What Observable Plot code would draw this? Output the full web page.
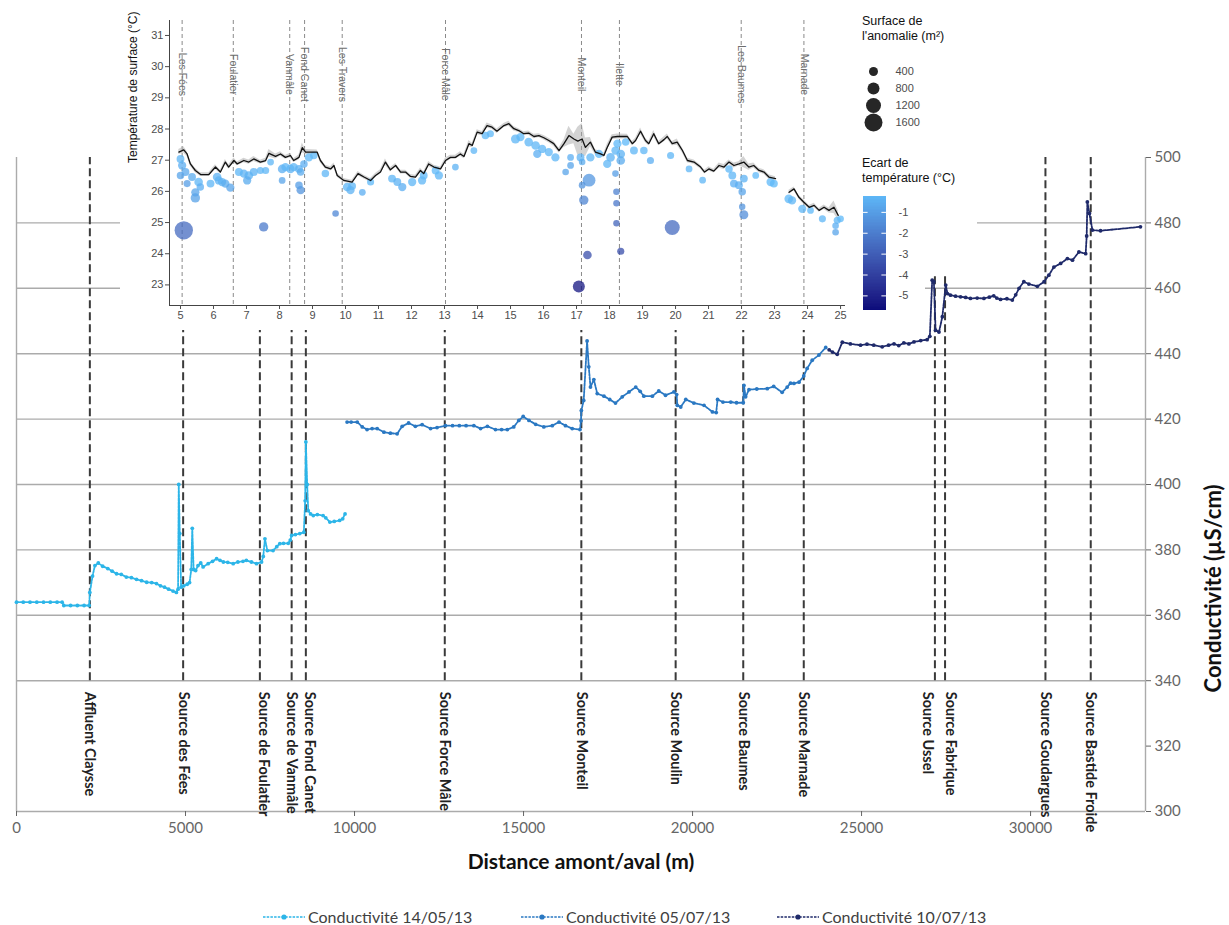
<!DOCTYPE html>
<html><head><meta charset="utf-8">
<script src="https://cdn.jsdelivr.net/npm/d3@7"></script>
<script src="https://cdn.jsdelivr.net/npm/@observablehq/plot@0.6"></script>
<style>
body{margin:0;background:#fff;}
#wrap{position:relative;width:1229px;height:925px;overflow:hidden;font-family:Lato,"Liberation Sans",sans-serif;}
.box{position:absolute;background:#fff;}
.ttl{position:absolute;font-family:"Liberation Sans",Arial,sans-serif;font-size:12.5px;color:#111;line-height:15px;}
.leg{position:absolute;font-family:Lato,"Liberation Sans",sans-serif;font-size:16px;color:#404040;white-space:nowrap;}
</style></head><body><div id="wrap"></div>
<script>
// ---------- Main chart: conductivity (µS/cm) along the river (m) ----------
const seriesNames = ["Conductivité 14/05/13", "Conductivité 05/07/13", "Conductivité 10/07/13"];
const seriesColors = ["#2cb5e8", "#2a78c2", "#1f2a6a"];

const s1Dist = [0,200,400,600,800,1000,1200,1350,1400,1600,1800,2000,2150,2170,2250,2320,2420,2550,2700,2830,
  2960,3100,3250,3400,3550,3700,3850,4000,4140,4260,4380,4500,4630,4730,4780,4800,4830,4870,4950,5050,
  5120,5170,5200,5240,5300,5370,5450,5520,5670,5800,5920,6020,6120,6250,6410,6550,6700,6800,6950,7100,
  7250,7300,7350,7420,7590,7700,7790,7900,8040,8100,8140,8250,8380,8500,8540,8560,8600,8630,8700,8780,
  8900,9070,9150,9270,9400,9560,9650,9720];
const s1Cond = [364,364,364,364,364,364,364,364,363,363,363,363,363,367,372,375.2,376,375,374.3,373.5,
  372.7,372.5,371.7,371.5,371,370.6,370.1,370,369.7,369,368.6,368,367.4,367,368,400,385,368.6,369,369.5,
  370,374,386.6,374,373.7,375.2,376,374.8,375.8,376.5,377.3,376.8,376.3,376.2,375.8,376.3,376.5,376.8,376.3,375.8,
  376.3,378,383.4,379.8,379.8,381,381.9,382,382,383,384.4,384.7,385,385.4,395,413,400,392,391,390.5,
  390.8,390.5,389.8,388.5,388.7,389,389.5,391];

const s2Dist = [9780,9900,10080,10230,10370,10520,10670,10870,11060,11260,11410,11600,11800,12000,12250,12440,12690,12900,13100,13300,
  13530,13730,13930,14170,14350,14520,14710,14860,14990,15160,15360,15600,15850,16050,16240,16440,16670,16700,16710,16780,
  16880,16930,16980,17080,17180,17380,17550,17720,17920,18120,18320,18450,18560,18810,19000,19200,19450,19530,19550,19650,
  19800,20040,20340,20590,20700,20740,20900,21130,21300,21500,21520,21570,21670,21900,22210,22400,22650,22800,22900,23000,
  23150,23290,23390,23540,23740,23940];
const s2Cond = [419.1,419.1,419.1,417.6,416.8,417.1,417.1,416,415.7,415.5,417.8,418.8,417.8,418.3,417.1,417.4,418,418,418,418,
  418,417.1,417.8,416.8,416.8,416.8,417.6,419.6,420.8,419.6,418.4,417.6,418,419.1,418,417.1,416.8,419.5,422.6,425.7,
  443.9,436,429.8,432.1,427.8,427,426,424.9,426.8,428.3,429.8,428.5,427,427,428.6,427.3,428.3,427.5,424.2,423.7,
  426,424.9,424.2,422.2,422,426,425.2,425.2,425,425,430.3,426.8,429,429.2,429.3,430,428.2,429.8,431,430.9,
  431.3,433.2,435.5,438,439.6,441.9];

const s3Dist = [24040,24140,24280,24430,24670,24970,25160,25360,25610,25800,25960,26100,26250,26400,26550,26750,26940,27020,27090,27140,27190,
  27290,27390,27490,27540,27630,27780,27930,28080,28220,28420,28620,28780,28910,29000,29110,29300,29460,29560,29660,29800,
  29950,30200,30400,30540,30690,30890,31090,31240,31430,31630,31660,31680,31740,31830,32070,33250];
const s3Cond = [441.2,440.5,439.8,443.5,443,442.6,442.9,442.6,442.1,442.6,443,442.5,443.3,443,443.6,444,444.3,445.3,462.5,462,447.2,
  446.6,451.3,461,458.4,457.9,457.6,457.4,457.2,456.9,457,456.9,457.3,457.7,457,456.6,456.8,456.4,458,460,462,
  461.3,460.6,462,464,466.5,467.6,469.1,468.6,471.1,470.6,476,486.4,482.9,477.8,477.6,478.8];

const sourceNames = ["Affluent Claysse","Source des Fées","Source de Foulatier","Source de Vanmâle","Source Fond Canet",
  "Source Force Mâle","Source Monteil","Source Moulin","Source Baumes","Source Marnade","Source Ussel","Source Fabrique",
  "Source Goudargues","Source Bastide Froide"];
const sourceDist = [2170,4930,7200,8140,8560,12670,16710,19500,21500,23290,27170,27470,30440,31780];

const condTicks = [300,320,340,360,380,400,420,440,460,480,500];
const condGrid = [340,360,380,400,420,440,460,480];
const distTicks = [0,5000,10000,15000,20000,25000,30000];

// ---------- Inset: surface temperature (°C) along the river (km) ----------
const tempKm = [4.95,5.10,5.20,5.30,5.45,5.61,5.86,6.06,6.21,6.36,
  6.46,6.62,6.72,6.92,7.07,7.22,7.42,7.58,7.68,7.88,
  8.03,8.18,8.33,8.43,8.59,8.69,8.79,9.14,9.24,9.39,
  9.55,9.65,9.75,9.95,10.20,10.38,10.56,10.76,10.91,11.06,
  11.21,11.36,11.52,11.67,11.82,11.97,12.12,12.27,12.37,12.52,
  12.68,12.88,13.03,13.18,13.33,13.48,13.59,13.74,13.84,13.99,
  14.14,14.29,14.44,14.59,14.80,14.95,15.10,15.25,15.40,15.55,
  15.71,15.86,16.01,16.16,16.31,16.47,16.62,16.77,16.92,17.04,
  17.17,17.27,17.42,17.57,17.73,17.83,17.93,18.08,18.24,18.54,
  18.69,18.79,18.94,19.09,19.19,19.34,19.49,19.65,19.75,19.90,
  20.05,20.21,20.36,20.56,20.76,20.88,21.01,21.16,21.32,21.47,
  21.62,21.77,21.92,22.07,22.22,22.37,22.53,22.68,22.83,23.03,
  23.44,23.59,23.74,23.89,24.05,24.20,24.35,24.50,24.65,24.80,24.93];
const tempC = [27.26,27.33,27.20,26.88,26.67,26.54,26.54,26.78,26.62,26.94,
  26.78,26.99,26.88,26.99,26.94,27.04,26.94,26.99,27.22,27.12,
  27.20,27.09,27.15,26.99,27.09,27.40,27.26,27.26,26.99,26.78,
  26.72,26.83,26.51,26.35,26.30,26.57,26.46,26.35,26.51,26.62,
  26.94,26.69,26.83,26.62,26.62,26.48,26.46,26.67,26.57,26.88,
  26.78,26.72,26.99,27.09,27.09,27.20,27.12,27.53,27.47,27.90,
  27.85,28.11,28.06,27.93,28.11,28.17,28.01,27.95,27.85,27.87,
  27.76,27.79,27.72,27.63,27.53,27.31,27.53,27.79,27.68,27.61,
  27.68,27.41,27.58,27.26,27.20,27.15,27.41,27.74,27.76,27.76,
  27.53,27.63,27.93,27.63,27.53,27.85,27.53,27.66,27.76,27.53,
  27.58,27.31,26.99,26.94,26.78,26.62,26.72,26.65,26.83,26.78,
  26.94,26.83,26.88,26.94,26.78,26.83,26.67,26.62,26.46,26.41,
  25.97,26.08,25.81,25.65,25.49,25.55,25.39,25.49,25.39,25.49,25.23];
const tempSe = [.08,.1,.08,.07,.07,.06,.06,.07,.06,.08,
  .07,.08,.06,.07,.07,.08,.06,.07,.12,.08,
  .07,.06,.07,.06,.08,.15,.08,.07,.07,.06,
  .07,.08,.06,.06,.06,.07,.06,.06,.06,.07,
  .1,.07,.06,.06,.06,.06,.06,.07,.06,.08,
  .06,.06,.08,.07,.07,.07,.07,.1,.07,.08,
  .07,.08,.07,.07,.07,.08,.07,.06,.06,.07,
  .07,.06,.07,.07,.08,.08,.12,.3,.15,.45,
  .5,.3,.15,.08,.07,.07,.1,.08,.08,.07,
  .07,.07,.1,.07,.07,.1,.07,.08,.08,.07,
  .1,.08,.07,.07,.06,.06,.07,.06,.08,.08,
  .07,.08,.07,.18,.1,.08,.07,.07,.07,.06,
  .07,.06,.06,.07,.06,.07,.06,.07,.08,.2,.15];

const bubbleKm = [5.00,5.05,5.00,5.15,5.20,5.35,5.45,5.45,5.55,5.60,
  5.91,6.11,6.16,6.26,6.36,6.51,5.10,7.52,6.77,6.92,
  7.07,7.02,7.22,7.42,7.58,7.73,8.08,8.08,8.18,8.33,
  8.43,8.59,8.64,8.59,8.64,8.74,8.89,9.04,9.39,9.70,
  10.05,10.15,10.20,10.51,10.76,11.41,11.57,11.72,12.02,12.32,
  12.37,12.73,12.83,13.33,13.89,14.24,14.39,15.15,15.30,15.55,
  15.76,15.81,15.96,16.16,16.36,16.67,16.82,16.82,17.12,17.17,
  17.38,17.17,17.22,17.33,17.07,17.42,17.68,17.93,18.03,18.18,
  18.24,18.34,18.34,18.18,18.21,18.21,18.21,18.34,18.49,18.74,
  19.04,19.24,19.85,19.90,20.41,20.82,21.62,21.72,21.77,21.92,
  22.07,22.02,22.02,22.07,22.43,22.88,22.98,23.43,23.53,23.84,
  24.09,24.45,24.90,24.85,24.85,25.00];
const bubbleTemp = [27.04,26.83,26.51,26.62,26.25,26.46,25.97,25.79,26.30,26.14,
  26.25,26.46,26.35,26.30,26.25,26.12,24.75,24.86,26.62,26.57,
  26.51,26.35,26.62,26.67,26.67,26.94,26.72,26.35,26.78,26.72,
  26.78,26.72,26.62,26.20,26.04,26.88,27.09,27.15,26.57,25.29,
  26.14,26.04,26.17,25.97,26.30,26.41,26.30,26.14,26.30,26.35,
  26.51,26.67,26.51,26.78,27.31,27.79,27.85,27.68,27.74,27.58,
  27.47,27.20,27.36,27.26,27.09,26.62,27.09,26.83,27.09,26.94,
  26.36,26.20,25.72,23.96,22.95,27.09,27.20,26.88,27.09,27.31,
  27.53,27.20,26.99,26.57,25.99,25.62,24.98,24.08,27.58,27.31,
  27.31,26.99,27.15,24.84,26.72,26.36,26.72,26.51,26.25,26.20,
  26.41,25.99,25.51,25.25,26.51,26.30,26.25,25.76,25.71,25.44,
  25.39,25.12,25.07,24.90,24.69,25.12];
const bubbleArea = [250,300,200,250,150,250,300,450,350,200,
  250,350,300,300,300,300,1650,450,250,300,
  350,300,250,150,150,100,350,100,300,350,
  300,250,200,200,300,200,300,200,200,80,
  350,300,250,100,150,250,250,300,300,300,
  250,250,300,100,100,200,150,400,300,350,
  350,300,300,300,300,80,100,100,250,80,
  900,100,450,350,800,300,300,300,350,300,
  300,350,350,80,80,60,60,150,200,250,
  200,150,150,1200,100,100,200,250,250,250,
  250,200,60,400,100,300,250,350,300,300,
  100,150,150,80,80,100];
const bubbleEcart = [-0.3,-0.5,-0.8,-0.7,-1.0,-0.6,-0.8,-0.9,-0.3,-0.5,
  -0.3,-0.4,-0.4,-0.4,-0.6,-0.8,-2.6,-2.1,-0.3,-0.4,
  -0.4,-0.6,-0.4,-0.3,-0.3,-0.3,-0.5,-0.8,-0.3,-0.4,
  -0.3,-0.4,-0.6,-1.0,-1.3,-0.5,-0.2,-0.2,-0.3,-1.7,
  -0.3,-0.4,-0.3,-0.5,-0.2,-0.3,-0.4,-0.5,-0.3,-0.3,
  -0.2,-0.2,-0.3,-0.4,-0.3,-0.2,-0.2,-0.3,-0.2,-0.3,
  -0.3,-0.5,-0.3,-0.3,-0.3,-0.8,-0.5,-0.8,-0.4,-0.6,
  -1.2,-1.3,-1.8,-3.5,-5.4,-0.3,-0.2,-0.3,-0.4,-0.3,
  -0.2,-0.4,-0.6,-1.0,-1.9,-2.2,-2.8,-3.6,-0.2,-0.3,
  -0.3,-0.5,-0.3,-2.6,-0.3,-0.3,-0.2,-0.3,-0.5,-0.5,
  -0.4,-0.8,-1.3,-1.5,-0.2,-0.2,-0.2,-0.2,-0.3,-0.3,
  -0.2,-0.3,-0.3,-0.5,-0.8,-0.2];

const siteNames = ["Les Fées","Foulatier","Vanmâle","Fond Canet","Les Travers","Force Mâle","Monteil","Ilette","Les Baumes","Marnade"];
const siteKm = [5.05,6.60,8.31,8.76,9.90,13.03,17.15,18.30,21.99,23.89];

const kmTicks = [5,6,7,8,9,10,11,12,13,14,15,16,17,18,19,20,21,22,23,24,25];
const tempTicks = [23,24,25,26,27,28,29,30,31];
const sizeLegend = [400,800,1200,1600];
const ecartTicks = [-1,-2,-3,-4,-5];

// ---------- build ----------
const wrap = document.getElementById("wrap");
function place(el, left, top) { el.style.position = "absolute"; el.style.left = left + "px"; el.style.top = top + "px"; wrap.appendChild(el); return el; }
function box(left, top, w, h) { const d = document.createElement("div"); d.className = "box"; Object.assign(d.style, {left: left+"px", top: top+"px", width: w+"px", height: h+"px"}); wrap.appendChild(d); return d; }

const condRows = [];
[[s1Dist, s1Cond], [s2Dist, s2Cond], [s3Dist, s3Cond]].forEach(([xs, ys], k) =>
  xs.forEach((x, i) => condRows.push({x, y: ys[i], name: seriesNames[k]})));
const sources = sourceNames.map((name, i) => ({name, x: sourceDist[i]}));
const labelShift = {"Source Ussel": -7, "Source Fabrique": 6, "Source de Foulatier": 4, "Source Fond Canet": 4};

const main = Plot.plot({
  width: 1229, height: 880, marginLeft: 16, marginRight: 84, marginTop: 157, marginBottom: 69,
  x: {domain: [0, 33400]},
  y: {domain: [300, 500]},
  color: {domain: seriesNames, range: seriesColors},
  style: {fontFamily: "Lato, 'Liberation Sans', sans-serif", background: "transparent", overflow: "visible"},
  marks: [
    Plot.ruleY(condGrid, {stroke: "#ababab", strokeWidth: 1.4}),
    Plot.ruleY([300], {stroke: "#ababab", strokeWidth: 1.4}),
    Plot.ruleX([0], {stroke: "#ababab", strokeWidth: 1.4}),
    Plot.ruleX([33400], {stroke: "#ababab", strokeWidth: 1.4}),
    Plot.ruleX(sources, {x: "x", y1: 340, y2: 500, stroke: "#3a3a3a", strokeWidth: 2, strokeDasharray: "8,4"}),
    ...sources.map(s => Plot.text([s], {x: "x", y: 340, text: "name", rotate: 90, textAnchor: "start", lineAnchor: "middle",
      dy: 11, dx: labelShift[s.name] || 0, fontWeight: "bold", fontSize: 14.5, fill: "#222"})),
    Plot.line(condRows, {x: "x", y: "y", z: "name", stroke: "name", strokeWidth: 1.8, strokeDasharray: "2.5,1.2"}),
    Plot.dot(condRows, {x: "x", y: "y", fill: "name", r: 1.9}),
    Plot.axisY({anchor: "right", ticks: condTicks, tickSize: 5, tickPadding: 4, fontSize: 15, label: null, color: "#666"}),
    Plot.axisX({ticks: distTicks, tickSize: 5, tickPadding: 6, tickFormat: d => String(d), fontSize: 15, label: null, color: "#666"}),
    Plot.text(["Distance amont/aval (m)"], {frameAnchor: "bottom", text: d => d, dy: 57, fontWeight: "bold", fontSize: 21, fill: "#111"}),
    Plot.text(["Conductivité (µS/cm)"], {frameAnchor: "right", text: d => d, rotate: -90, dx: 68, fontWeight: "bold", fontSize: 22, fill: "#111"})
  ]
});
place(main, 0, 0);

// white backing of the inset image
box(120, 0, 805, 330);
box(850, 0, 127, 275);

const colorDomain = [-5.7, -0.24];
const colorDef = {type: "linear", domain: colorDomain, range: ["#0a0a7a", "#5db7f7"], interpolate: "lab"};
const rDef = {type: "linear", domain: [0, 1600], range: [3, 9]};

const temp = tempKm.map((km, i) => ({km, t: tempC[i], se: tempSe[i], seg: km > 23.2 ? 1 : 0}));
const bubbles = bubbleKm.map((km, i) => ({km, t: bubbleTemp[i], area: bubbleArea[i], ecart: bubbleEcart[i]}));
const sites = siteNames.map((name, i) => ({name, km: siteKm[i]}));

const inset = Plot.plot({
  width: 730, height: 330, marginLeft: 49, marginRight: 5, marginTop: 20, marginBottom: 25,
  x: {domain: [4.667, 25.15]},
  y: {domain: [22.34, 31.48]},
  color: colorDef,
  r: rDef,
  style: {fontFamily: "'Liberation Sans', Arial, sans-serif", background: "transparent", overflow: "visible"},
  marks: [
    Plot.ruleX(sites, {x: "km", stroke: "#8a8a8a", strokeWidth: 1, strokeDasharray: "4,3"}),
    Plot.areaY(temp, {x: "km", y1: d => d.t - d.se, y2: d => d.t + d.se, z: "seg", fill: "#a8a8a8", fillOpacity: 0.5}),
    Plot.dot(bubbles, {x: "km", y: "t", r: "area", fill: "ecart", fillOpacity: 0.75}),
    Plot.line(temp, {x: "km", y: "t", z: "seg", stroke: "#111", strokeWidth: 1.3}),
    Plot.text(sites, {x: "km", y: 29.75, text: "name", rotate: 90, fill: "#6e6e6e", fontSize: 10.5}),
    Plot.ruleX([4.667], {stroke: "#444"}),
    Plot.ruleY([22.34], {stroke: "#444"}),
    Plot.axisX({ticks: kmTicks, tickSize: 4, tickPadding: 2, fontSize: 11, color: "#4d4d4d", label: null}),
    Plot.axisY({ticks: tempTicks, tickSize: 4, tickPadding: 2, fontSize: 11, color: "#4d4d4d", label: null}),
    Plot.text(["Température de surface (°C)"], {frameAnchor: "left", text: d => d, rotate: -90, dx: -36, fontSize: 12, fill: "#111"})
  ]
});
place(inset, 120, 0);

// size legend
const sizeLeg = Plot.plot({
  width: 127, height: 110, margin: 0,
  x: {domain: [0, 1], range: [23, 45], axis: null},
  y: {type: "point", domain: sizeLegend, range: [21, 91], axis: null},
  r: rDef,
  style: {fontFamily: "'Liberation Sans', Arial, sans-serif", background: "transparent", overflow: "visible"},
  marks: [
    Plot.dot(sizeLegend, {x: 0, y: d => d, r: d => d, fill: "#262626"}),
    Plot.text(sizeLegend, {x: 1, y: d => d, text: d => String(d), textAnchor: "start", fontSize: 11, fill: "#4d4d4d"})
  ]
});
place(sizeLeg, 850, 40);

// colour bar legend
const nSlices = 80;
const slices = d3.range(nSlices).map(i => {
  const lo = colorDomain[0] + (colorDomain[1] - colorDomain[0]) * i / nSlices;
  const hi = colorDomain[0] + (colorDomain[1] - colorDomain[0]) * (i + 1) / nSlices;
  return {lo, hi, mid: (lo + hi) / 2};
});
const colorLeg = Plot.plot({
  width: 80, height: 152, marginLeft: 13, marginRight: 44, marginTop: 36, marginBottom: 2,
  x: {domain: [0, 1], axis: null},
  y: {domain: colorDomain},
  color: colorDef,
  style: {fontFamily: "'Liberation Sans', Arial, sans-serif", background: "transparent", overflow: "visible"},
  marks: [
    Plot.rect(slices, {x1: 0, x2: 1, y1: "lo", y2: "hi", fill: "mid", shapeRendering: "crispEdges"}),
    Plot.ruleY(ecartTicks, {x1: 0, x2: 0.2, stroke: "white", strokeWidth: 1}),
    Plot.ruleY(ecartTicks, {x1: 0.8, x2: 1, stroke: "white", strokeWidth: 1}),
    Plot.axisY({anchor: "right", ticks: ecartTicks, tickSize: 0, tickPadding: 12, tickFormat: d => String(d), fontSize: 11, color: "#4d4d4d", label: null})
  ]
});
place(colorLeg, 850, 160);

// legend titles
const t1 = document.createElement("div"); t1.className = "ttl"; t1.innerHTML = "Surface de<br>l'anomalie (m²)"; place(t1, 862, 14);
const t2 = document.createElement("div"); t2.className = "ttl"; t2.innerHTML = "Ecart de<br>température (°C)"; place(t2, 862, 156);

// bottom series legend
const legX = [262, 520, 776];
seriesNames.forEach((name, k) => {
  const svg = d3.create("svg").attr("width", 44).attr("height", 12);
  svg.append("line").attr("x1", 1).attr("x2", 43).attr("y1", 6).attr("y2", 6)
    .attr("stroke", seriesColors[k]).attr("stroke-width", 1.6).attr("stroke-dasharray", "2.5,1.2");
  svg.append("circle").attr("cx", 22).attr("cy", 6).attr("r", 2.6).attr("fill", seriesColors[k]);
  place(svg.node(), legX[k], 911);
  const t = document.createElement("div"); t.className = "leg"; t.textContent = name; place(t, legX[k] + 46, 907);
});
</script>
</body></html>
